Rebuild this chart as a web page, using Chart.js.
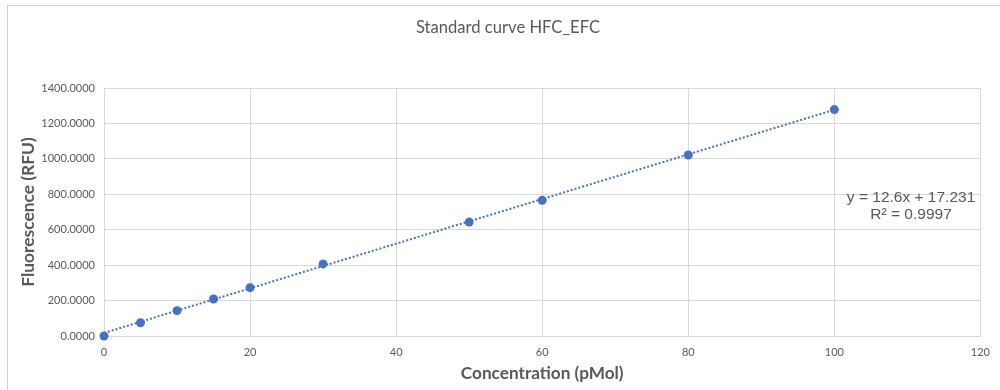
<!DOCTYPE html>
<html>
<head>
<meta charset="utf-8">
<script src="https://cdn.jsdelivr.net/npm/chart.js@4.4.1/dist/chart.umd.min.js"></script>
<style>
  html, body { margin: 0; padding: 0; background: #ffffff; }
  #wrap { width: 1000px; height: 390px; }
</style>
</head>
<body>
<div id="wrap"><canvas id="c" width="1000" height="390"></canvas></div>
<script>
// Standard curve measurements
const concentration = [0, 5, 10, 15, 20, 30, 50, 60, 80, 100];      // pMol
const fluorescence  = [0, 75, 143, 209, 273, 407, 643, 766, 1022, 1278]; // RFU

// Linear fit reported on the chart
const fitSlope = 12.6;
const fitIntercept = 17.231;
const fitR2 = 0.9997;

// Axis ticks
const xTicks = [0, 20, 40, 60, 80, 100, 120];
const yTicks = [0, 200, 400, 600, 800, 1000, 1200, 1400];

const chartTitle = 'Standard curve HFC_EFC';

const TEXT = '#595959';
const GRID = '#d9d9d9';
const BLUE = '#4472C4';
const SANS = 'Lato, "Open Sans", sans-serif';

const points = concentration.map((x, i) => ({ x, y: fluorescence[i] }));
const fitEnds = [concentration[0], concentration[concentration.length - 1]];
const fitLine = fitEnds.map(x => ({ x, y: fitSlope * x + fitIntercept }));

// Light frame around the chart, plus the chart title
const framePlugin = {
  id: 'frame',
  beforeDraw(chart) {
    const ctx = chart.ctx;
    ctx.save();
    ctx.strokeStyle = '#cfcfcf';
    ctx.lineWidth = 1;
    ctx.strokeRect(7.5, 5.5, 1000, 400);
    ctx.fillStyle = TEXT;
    ctx.font = '16.6px ' + SANS;
    ctx.textAlign = 'center';
    ctx.textBaseline = 'middle';
    ctx.fillText(chartTitle, 508, 28);
    ctx.restore();
  }
};

// Regression equation label
const equationPlugin = {
  id: 'equation',
  afterDraw(chart) {
    const ctx = chart.ctx;
    const cx = chart.scales.x.getPixelForValue(110.5);
    const cy = chart.scales.y.getPixelForValue(700);
    ctx.save();
    ctx.fillStyle = TEXT;
    ctx.font = '15.5px "Liberation Sans", Arial, sans-serif';
    ctx.textAlign = 'center';
    ctx.textBaseline = 'middle';
    ctx.fillText('y = ' + fitSlope + 'x + ' + fitIntercept, cx, cy - 14);
    ctx.fillText('R\u00B2 = ' + fitR2, cx, cy + 3);
    ctx.restore();
  }
};

new Chart(document.getElementById('c'), {
  type: 'scatter',
  data: {
    datasets: [
      {
        label: 'Fluorescence',
        data: points,
        backgroundColor: BLUE,
        borderColor: BLUE,
        borderWidth: 0,
        pointRadius: 4.5,
        pointHoverRadius: 4.5,
        clip: false,
        order: 1
      },
      {
        label: 'Linear fit',
        type: 'line',
        data: fitLine,
        borderColor: BLUE,
        borderWidth: 2,
        borderDash: [2, 2],
        pointRadius: 0,
        fill: false,
        order: 2
      }
    ]
  },
  options: {
    responsive: false,
    animation: false,
    devicePixelRatio: 1,
    layout: { padding: { left: 0, right: 19, top: 88, bottom: 0 } },
    plugins: {
      legend: { display: false },
      tooltip: { enabled: false },
      title: { display: false }
    },
    scales: {
      x: {
        type: 'linear',
        min: 0,
        max: 120,
        afterBuildTicks(scale) { scale.ticks = xTicks.map(v => ({ value: v })); },
        afterFit(scale) { scale.height = 54; },
        grid: { color: GRID, lineWidth: 1, drawTicks: false },
        border: { color: GRID, width: 1 },
        ticks: { color: TEXT, padding: 10, font: { family: SANS, size: 11 }, maxRotation: 0 },
        title: {
          display: true,
          text: 'Concentration (pMol)',
          color: TEXT,
          font: { family: SANS, size: 17.2, weight: 'bold' },
          padding: 6
        }
      },
      y: {
        type: 'linear',
        min: 0,
        max: 1400,
        afterBuildTicks(scale) { scale.ticks = yTicks.map(v => ({ value: v })); },
        afterFit(scale) { scale.width = 104; },
        grid: { color: GRID, lineWidth: 1, drawTicks: false },
        border: { color: GRID, width: 1 },
        ticks: {
          color: TEXT,
          padding: 9,
          font: { family: SANS, size: 11 },
          callback: v => Number(v).toFixed(4)
        },
        title: {
          display: true,
          text: 'Fluorescence (RFU)',
          color: TEXT,
          font: { family: SANS, size: 17.4, weight: 'bold' },
          padding: { top: 18, bottom: 0 }
        }
      }
    }
  },
  plugins: [framePlugin, equationPlugin]
});
</script>
</body>
</html>
